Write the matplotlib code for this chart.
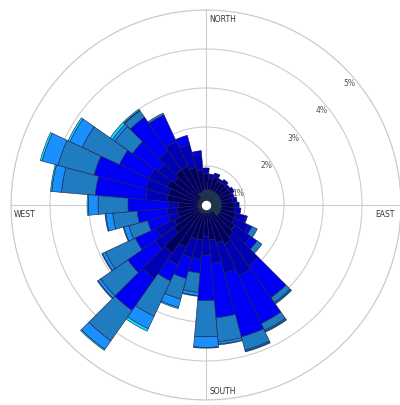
import numpy as np
import matplotlib
matplotlib.use('Agg')
import matplotlib.pyplot as plt

# wind direction (degrees from north, clockwise), 10 degree sectors
directions = np.arange(0, 360, 10)

# frequency (%) per speed class, stacked outward from the centre
calm = [.40, .40, .40, .40, .40, .40, .40, .40, .40, .40, .40, .40,
        .40, .40, .22, .22, .22, .22, .22, .22, .22, .22, .22, .22,
        .22, .22, .22, .22, .22, .22, .22, .22, .22, .35, .35, .38]
light = [.40, .30, .35, .28, .30, .28, .30, .25, .30, .32, .35, .40,
         .40, .50, .78, .88, .78, .68, .58, .68, .68, .98, 1.28, .78,
         .68, .53, .53, .48, .78, .78, .88, .78, .88, .75, .65, .52]
gentle = [.15, .10, .10, .07, .10, .07, .10, .10, .10, .13, .15, .25,
          .40, .50, .90, .90, .80, .60, .50, .50, .50, .50, .80, .60,
          .50, .25, .25, .25, .55, .60, .50, .50, .60, .70, .60, .40]
moderate = [0, 0, 0, 0, 0, 0, 0, 0, 0, 0, 0, .05,
            .10, .20, 1.00, 1.35, 1.70, 1.40, 1.15, .35, .55, .45, 1.00, .85,
            .60, .55, .77, 1.05, 1.30, 1.37, .85, .80, 1.05, .75, .25, .10]
fresh = [0, 0, 0, 0, 0, 0, 0, 0, 0, 0, 0, 0,
         .15, .15, .15, .20, .35, .62, .93, .50, .55, 1.00, .95, .85,
         .85, .50, .63, .77, .87, .96, 1.05, .55, .20, .05, 0, 0]
strong = [0, 0, 0, 0, 0, 0, 0, 0, 0, 0, 0, 0,
          0, 0, .03, .03, .03, .06, .27, .08, .22, .35, .27, .08,
          .08, .13, .18, .25, .25, .42, .35, .08, .02, 0, 0, 0]
gale = [0, 0, 0, 0, 0, 0, 0, 0, 0, 0, 0, 0,
        0, 0, .02, .02, .02, .02, .02, .02, .03, .07, .03, .02,
        .02, .02, .02, .03, .03, .05, .05, .07, .03, 0, 0, 0]

classes = [calm, light, gentle, moderate, fresh, strong, gale]
colors = ['#17414f', '#000064', '#0000b4', '#0000f5', '#1f7cc0', '#1a90ff', '#00e5ff']

ring_values = [1, 2, 3, 4, 5]
ring_labels = ['1%', '2%', '3%', '4%', '5%']

fig = plt.figure(figsize=(4, 4.05), dpi=100)
ax = fig.add_axes([0.0275, 0.0123, 0.975, 0.963], projection='polar')
ax.set_theta_zero_location('N')
ax.set_theta_direction(-1)

theta = np.radians(directions)
bottom = np.zeros(len(directions))
for vals, col in zip(classes, colors):
    vals = np.array(vals)
    keep = vals > 0
    ax.bar(theta[keep], vals[keep], width=np.radians(10), bottom=bottom[keep],
           color=col, edgecolor='#1c1c40', linewidth=0.4, zorder=3)
    bottom += vals

# hole in the middle
ax.scatter([0], [0], s=34, color='white', zorder=5)

ax.set_ylim(0, 5)
ax.set_yticks(ring_values)
ax.set_yticklabels([])
ax.set_xticks(np.radians([0, 90, 180, 270]))
ax.set_xticklabels([])
ax.set_axisbelow(True)
ax.grid(color='#cccccc', linewidth=0.8)
ax.spines['polar'].set_color('#cccccc')
ax.spines['polar'].set_linewidth(0.8)

for r, lab in zip(ring_values, ring_labels):
    ax.annotate(lab, xy=(np.radians(45), r), xytext=(5, -16), textcoords='offset pixels',
                ha='center', va='center', fontsize=5.5, color='#555555', zorder=6)

ax.annotate('NORTH', xy=(0, 5), xytext=(3, -9), textcoords='offset pixels',
            ha='left', va='center', fontsize=5.5, color='#333333')
ax.annotate('EAST', xy=(np.pi / 2, 5), xytext=(-6, -9), textcoords='offset pixels',
            ha='right', va='center', fontsize=5.5, color='#333333')
ax.annotate('SOUTH', xy=(np.pi, 5), xytext=(4, 9), textcoords='offset pixels',
            ha='left', va='center', fontsize=5.5, color='#333333')
ax.annotate('WEST', xy=(3 * np.pi / 2, 5), xytext=(3, -9), textcoords='offset pixels',
            ha='left', va='center', fontsize=5.5, color='#333333')

fig.savefig('out.png', dpi=100)
